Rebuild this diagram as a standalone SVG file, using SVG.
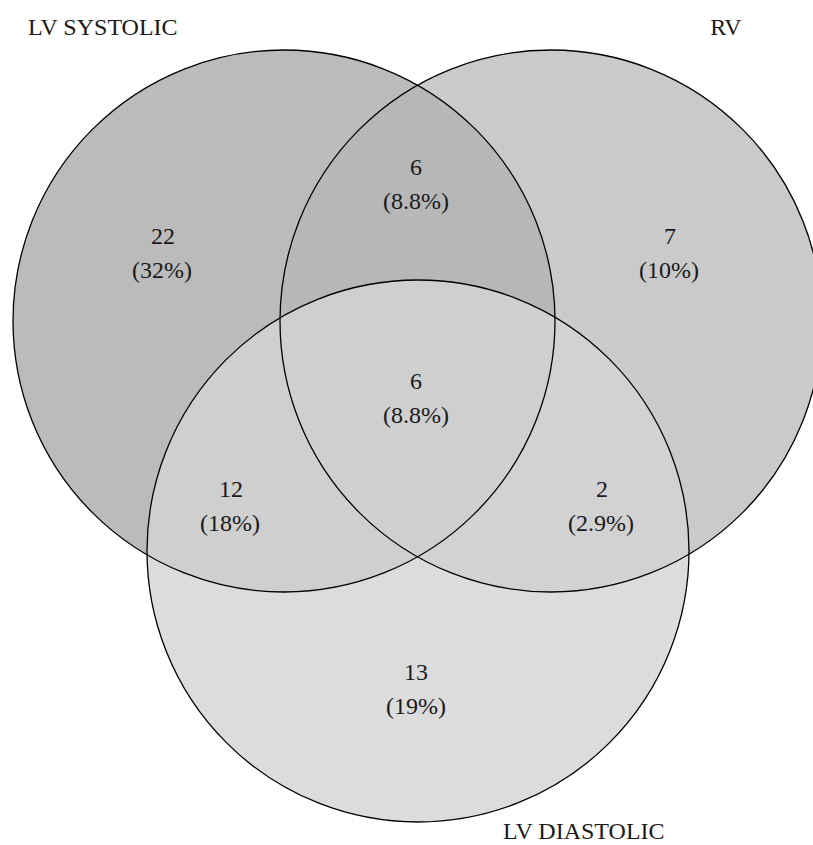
<svg xmlns="http://www.w3.org/2000/svg" width="813" height="845" viewBox="0 0 813 845">
<style>
  .lbl { font-family: "Liberation Serif", "Times New Roman", serif; font-size: 24px; fill: #1a1a1a; }
  .num { font-family: "Liberation Serif", "Times New Roman", serif; font-size: 24px; fill: #1a1a1a; text-anchor: middle; }
  .edge { fill: none; stroke: #000; stroke-width: 1.3; }
</style>
<defs>
  <clipPath id="clipLV"><circle cx="284" cy="321" r="271"/></clipPath>
  <clipPath id="clipRV"><circle cx="551" cy="321" r="271"/></clipPath>
</defs>
<rect width="813" height="845" fill="#ffffff"/>
<g id="fills">
  <circle cx="284" cy="321" r="271" fill="#bbbbbb"/>
  <circle cx="551" cy="321" r="271" fill="#cacaca"/>
  <circle cx="551" cy="321" r="271" fill="#b7b7b7" clip-path="url(#clipLV)"/>
  <circle cx="418" cy="551" r="271" fill="#dcdcdc"/>
  <circle cx="418" cy="551" r="271" fill="#d2d2d2" clip-path="url(#clipRV)"/>
  <circle cx="418" cy="551" r="271" fill="#cfcfcf" clip-path="url(#clipLV)"/>
</g>
<g id="lv-systolic">
  <circle class="edge" cx="284" cy="321" r="271"/>
  <text class="lbl" x="28" y="35">LV SYSTOLIC</text>
</g>
<g id="rv">
  <circle class="edge" cx="551" cy="321" r="271"/>
  <text class="lbl" x="726" y="35" text-anchor="middle">RV</text>
</g>
<g id="lv-diastolic">
  <circle class="edge" cx="418" cy="551" r="271"/>
  <text class="lbl" x="503" y="839">LV DIASTOLIC</text>
</g>
<g id="counts">
  <text class="num" x="163" y="244">22</text>
  <text class="num" x="162" y="278">(32%)</text>
  <text class="num" x="416" y="175">6</text>
  <text class="num" x="416" y="209">(8.8%)</text>
  <text class="num" x="670" y="244">7</text>
  <text class="num" x="669" y="278">(10%)</text>
  <text class="num" x="416" y="389">6</text>
  <text class="num" x="416" y="423">(8.8%)</text>
  <text class="num" x="231" y="497">12</text>
  <text class="num" x="230" y="531">(18%)</text>
  <text class="num" x="602" y="497">2</text>
  <text class="num" x="601" y="531">(2.9%)</text>
  <text class="num" x="416" y="680">13</text>
  <text class="num" x="416" y="714">(19%)</text>
</g>
</svg>
